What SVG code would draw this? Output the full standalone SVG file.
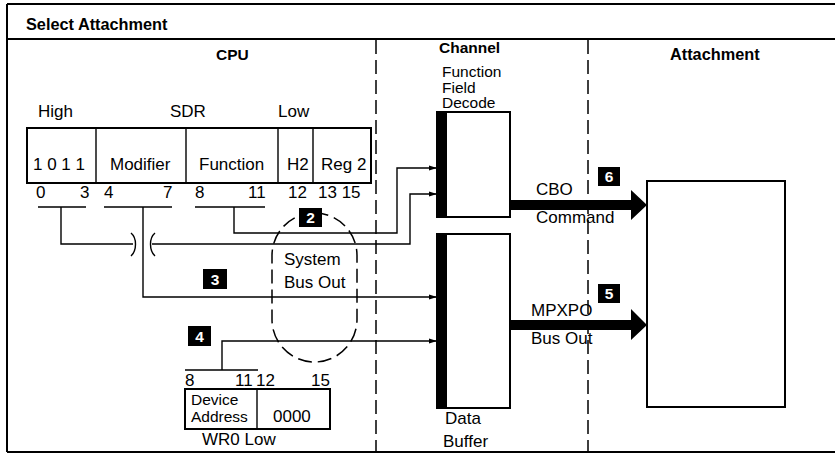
<svg xmlns="http://www.w3.org/2000/svg" width="835" height="457" viewBox="0 0 835 457">
<style>
text{font-family:"Liberation Sans",Arial,sans-serif;font-size:17px;fill:#000}
.b{font-weight:bold;font-size:15.5px}
.bl{font-weight:bold;font-size:16.3px}
.sm{font-size:15.5px}
.bw{font-weight:bold;font-size:15.5px;fill:#fff;text-anchor:middle}
.ln{fill:none;stroke:#000;stroke-width:1.4}
.box{fill:#fff;stroke:#000;stroke-width:2}
.dash{fill:none;stroke:#000;stroke-width:1.5;stroke-dasharray:14 6}
.frame{fill:none;stroke:#000;stroke-width:2}
</style>
<defs>
<marker id="ar" markerWidth="8" markerHeight="6" refX="8" refY="3" orient="auto" markerUnits="userSpaceOnUse">
<path d="M0,0.5 L8,3 L0,5.5 Z" fill="#000"/>
</marker>
</defs>
<rect width="835" height="457" fill="#fff"/>
<g id="frame">
<path class="frame" d="M7,4 H835 M7,39 H835 M7,452 H835 M7,4 V452"/>
<text class="bl" x="26" y="30">Select Attachment</text>
<path class="dash" d="M376,40 V452"/>
<path class="dash" d="M588,40 V452"/>
<text class="b" x="216" y="60">CPU</text>
<text class="b" x="439" y="53">Channel</text>
<text class="bl" x="670" y="60">Attachment</text>
</g>
<g id="sdr">
<text x="38" y="117">High</text>
<text x="170" y="117">SDR</text>
<text x="278" y="117">Low</text>
<rect class="box" x="27" y="128" width="344" height="55"/>
<path class="ln" stroke-width="2" d="M96,128 V183 M186,128 V183 M278,128 V183 M313,128 V183"/>
<text x="33" y="170">1 0 1 1</text>
<text x="110" y="170">Modifier</text>
<text x="199" y="170">Function</text>
<text x="287" y="170">H2</text>
<text x="321" y="170">Reg 2</text>
<text x="36" y="198">0</text>
<text x="80" y="198">3</text>
<text x="104" y="198">4</text>
<text x="163" y="198">7</text>
<text x="195" y="198">8</text>
<text x="248" y="198">11</text>
<text x="288" y="198">12</text>
<text x="318" y="198">13 15</text>
</g>
<g id="wr0">
<text x="185" y="386">8</text>
<text x="235" y="386">11</text>
<text x="256" y="386">12</text>
<text x="311" y="386">15</text>
<rect class="box" x="185" y="389" width="145" height="40"/>
<path class="ln" stroke-width="2" d="M257,389 V429"/>
<text class="sm" x="191" y="405">Device</text>
<text class="sm" x="191" y="422">Address</text>
<text x="273" y="422">0000</text>
<text x="202" y="445">WR0 Low</text>
</g>
<g id="sysbus">
<rect class="dash" x="272" y="213" width="85" height="149" rx="42.5" stroke-width="1.3" stroke-dasharray="10 6"/>
<text x="284" y="265">System</text>
<text x="284" y="288">Bus Out</text>
</g>
<g id="ffd">
<rect class="box" x="437" y="112" width="73" height="105"/>
<rect x="437" y="112" width="10" height="105" fill="#000"/>
<text class="sm" x="442" y="77">Function</text>
<text class="sm" x="442" y="92.5">Field</text>
<text class="sm" x="442" y="108">Decode</text>
</g>
<g id="databuf">
<rect class="box" x="437" y="234" width="73" height="174"/>
<rect x="437" y="234" width="10" height="174" fill="#000"/>
<text x="445" y="424">Data</text>
<text x="443" y="447">Buffer</text>
</g>
<g id="attach">
<rect class="box" x="647" y="181" width="138" height="226"/>
</g>
<g id="connectors">
<path class="ln" d="M38,207 H86 M104,207 H172 M195,207 H265 M185,370 H258"/>
<path class="ln" marker-end="url(#ar)" d="M234,207 V233 H397 V168 H437"/>
<path class="ln" d="M61,207 V244 H133"/>
<path class="ln" marker-end="url(#ar)" d="M152,244 H410 V194 H437"/>
<path class="ln" d="M131,233 C137,238 137,250 131,256 M155,233 C149,238 149,250 155,256"/>
<path class="ln" marker-end="url(#ar)" d="M143,207 V297 H437"/>
<path class="ln" marker-end="url(#ar)" d="M222,370 V341 H437"/>
<path d="M510,200 H631 V190 L647,205 L631,220 V210 H510 Z" fill="#000"/>
<path d="M510,320 H631 V309 L647,325 L631,340 V330 H510 Z" fill="#000"/>
<text x="536" y="195">CBO</text>
<text x="536" y="223">Command</text>
<text x="531" y="316">MPXPO</text>
<text x="531" y="344">Bus Out</text>
</g>
<g id="badges">
<rect x="299" y="208" width="23" height="19" fill="#000"/>
<text class="bw" x="310.5" y="223">2</text>
<rect x="203" y="269" width="24" height="20" fill="#000"/>
<text class="bw" x="215" y="285">3</text>
<rect x="188" y="326" width="23" height="20" fill="#000"/>
<text class="bw" x="199.5" y="342">4</text>
<rect x="598" y="284" width="22" height="19" fill="#000"/>
<text class="bw" x="609" y="299">5</text>
<rect x="598" y="167" width="22" height="19" fill="#000"/>
<text class="bw" x="609" y="182">6</text>
</g>
</svg>
